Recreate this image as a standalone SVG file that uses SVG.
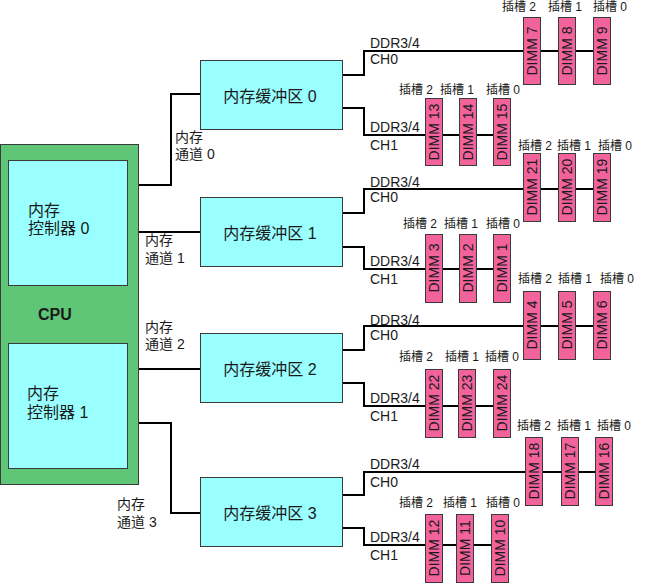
<svg xmlns="http://www.w3.org/2000/svg" width="660" height="584" viewBox="0 0 660 584">
<style>
text{font-family:"Liberation Sans","Noto Sans CJK SC",sans-serif;fill:#1a1a1a}
.cpu{fill:#5fc677;stroke:#3a3a3a;stroke-width:1}
.box{fill:#99ffff;stroke:#3a3a3a;stroke-width:1}
.dimm{fill:#f2639c;stroke:#3a3a3a;stroke-width:1}
.wire{fill:none;stroke:#000;stroke-width:2}
.t16{font-size:16px}
.t14{font-size:14px}
.t12{font-size:12px}
.mid{text-anchor:middle}
.dt{font-size:14px;text-anchor:middle}
</style>
<rect width="660" height="584" fill="#fff"/>
<g id="connectors">
<path class="wire" d="M128 185H171V94H200"/>
<path class="wire" d="M128 232H200"/>
<path class="wire" d="M128 369H200"/>
<path class="wire" d="M128 423H171V513H200"/>
<path class="wire" d="M343 75H364V51H601"/>
<path class="wire" d="M343 108H364V135H502"/>
<path class="wire" d="M343 213H364V189H601"/>
<path class="wire" d="M343 247H364V269H502"/>
<path class="wire" d="M343 350H364V326H601"/>
<path class="wire" d="M343 383H364V406H502"/>
<path class="wire" d="M343 495H364V472H604"/>
<path class="wire" d="M343 528H364V545H500"/>
</g>
<g id="cpu">
<rect class="cpu" x="0.5" y="144.5" width="138" height="340"/>
<text class="t16" x="38" y="320" font-weight="bold">CPU</text>
</g>
<g id="mc0">
<rect class="box" x="8.5" y="160.5" width="119" height="125"/>
<text class="t16" x="28" y="216">内存</text>
<text class="t16" x="28" y="234">控制器 0</text>
</g>
<g id="mc1">
<rect class="box" x="8.5" y="343.5" width="119" height="125"/>
<text class="t16" x="27" y="399">内存</text>
<text class="t16" x="27" y="418">控制器 1</text>
</g>
<g id="ch-labels">
<text class="t14" x="175" y="142">内存</text>
<text class="t14" x="175" y="159">通道 0</text>
<text class="t14" x="145" y="245">内存</text>
<text class="t14" x="145" y="263">通道 1</text>
<text class="t14" x="145" y="332">内存</text>
<text class="t14" x="145" y="349">通道 2</text>
<text class="t14" x="117" y="509">内存</text>
<text class="t14" x="117" y="527">通道 3</text>
</g>
<g id="buf0"><rect class="box" x="200.5" y="60.5" width="142" height="69"/><text class="t16 mid" x="270" y="102">内存缓冲区 0</text></g>
<g id="buf1"><rect class="box" x="200.5" y="197.5" width="142" height="69"/><text class="t16 mid" x="270" y="239">内存缓冲区 1</text></g>
<g id="buf2"><rect class="box" x="200.5" y="333.5" width="142" height="69"/><text class="t16 mid" x="270" y="375">内存缓冲区 2</text></g>
<g id="buf3"><rect class="box" x="200.5" y="477.5" width="142" height="69"/><text class="t16 mid" x="270" y="519">内存缓冲区 3</text></g>
<g id="ddr-labels">
<text class="t14" x="370" y="48">DDR3/4</text><text class="t14" x="370" y="64">CH0</text>
<text class="t14" x="370" y="132">DDR3/4</text><text class="t14" x="370" y="150">CH1</text>
<text class="t14" x="370" y="187">DDR3/4</text><text class="t14" x="370" y="202">CH0</text>
<text class="t14" x="370" y="266">DDR3/4</text><text class="t14" x="370" y="284">CH1</text>
<text class="t14" x="370" y="325">DDR3/4</text><text class="t14" x="370" y="340">CH0</text>
<text class="t14" x="370" y="403">DDR3/4</text><text class="t14" x="370" y="421">CH1</text>
<text class="t14" x="370" y="469">DDR3/4</text><text class="t14" x="370" y="487">CH0</text>
<text class="t14" x="370" y="542">DDR3/4</text><text class="t14" x="370" y="560">CH1</text>
</g>
<g id="slot-labels" class="t12">
<text class="t12 mid" x="519" y="11">插槽 2</text><text class="t12 mid" x="565" y="11">插槽 1</text><text class="t12 mid" x="610" y="11">插槽 0</text>
<text class="t12 mid" x="416" y="94">插槽 2</text><text class="t12 mid" x="457" y="94">插槽 1</text><text class="t12 mid" x="503" y="94">插槽 0</text>
<text class="t12 mid" x="535" y="150">插槽 2</text><text class="t12 mid" x="574" y="150">插槽 1</text><text class="t12 mid" x="615" y="150">插槽 0</text>
<text class="t12 mid" x="420" y="228">插槽 2</text><text class="t12 mid" x="461" y="228">插槽 1</text><text class="t12 mid" x="503" y="228">插槽 0</text>
<text class="t12 mid" x="535" y="283">插槽 2</text><text class="t12 mid" x="575" y="283">插槽 1</text><text class="t12 mid" x="617" y="283">插槽 0</text>
<text class="t12 mid" x="416" y="361">插槽 2</text><text class="t12 mid" x="462" y="361">插槽 1</text><text class="t12 mid" x="502" y="361">插槽 0</text>
<text class="t12 mid" x="534" y="430">插槽 2</text><text class="t12 mid" x="574" y="430">插槽 1</text><text class="t12 mid" x="614" y="430">插槽 0</text>
<text class="t12 mid" x="416" y="507">插槽 2</text><text class="t12 mid" x="460" y="507">插槽 1</text><text class="t12 mid" x="503" y="507">插槽 0</text>
</g>
<g id="dimm7"><rect class="dimm" x="523.5" y="17.5" width="17" height="67"/><text class="dt" transform="translate(532 51) rotate(-90)" y="5">DIMM 7</text></g>
<g id="dimm8"><rect class="dimm" x="558.5" y="17.5" width="17" height="67"/><text class="dt" transform="translate(567 51) rotate(-90)" y="5">DIMM 8</text></g>
<g id="dimm9"><rect class="dimm" x="593.5" y="17.5" width="17" height="67"/><text class="dt" transform="translate(602 51) rotate(-90)" y="5">DIMM 9</text></g>
<g id="dimm13"><rect class="dimm" x="425.5" y="98.5" width="17" height="67"/><text class="dt" transform="translate(434 132) rotate(-90)" y="5">DIMM 13</text></g>
<g id="dimm14"><rect class="dimm" x="459.5" y="98.5" width="17" height="67"/><text class="dt" transform="translate(468 132) rotate(-90)" y="5">DIMM 14</text></g>
<g id="dimm15"><rect class="dimm" x="493.5" y="98.5" width="17" height="67"/><text class="dt" transform="translate(502 132) rotate(-90)" y="5">DIMM 15</text></g>
<g id="dimm21"><rect class="dimm" x="523.5" y="153.5" width="17" height="68"/><text class="dt" transform="translate(532 187) rotate(-90)" y="5">DIMM 21</text></g>
<g id="dimm20"><rect class="dimm" x="558.5" y="153.5" width="17" height="68"/><text class="dt" transform="translate(567 187) rotate(-90)" y="5">DIMM 20</text></g>
<g id="dimm19"><rect class="dimm" x="593.5" y="153.5" width="17" height="68"/><text class="dt" transform="translate(602 187) rotate(-90)" y="5">DIMM 19</text></g>
<g id="dimm3"><rect class="dimm" x="425.5" y="234.5" width="17" height="68"/><text class="dt" transform="translate(434 268) rotate(-90)" y="5">DIMM 3</text></g>
<g id="dimm2"><rect class="dimm" x="459.5" y="234.5" width="17" height="68"/><text class="dt" transform="translate(468 268) rotate(-90)" y="5">DIMM 2</text></g>
<g id="dimm1"><rect class="dimm" x="493.5" y="234.5" width="17" height="68"/><text class="dt" transform="translate(502 268) rotate(-90)" y="5">DIMM 1</text></g>
<g id="dimm4"><rect class="dimm" x="523.5" y="291.5" width="17" height="68"/><text class="dt" transform="translate(532 325) rotate(-90)" y="5">DIMM 4</text></g>
<g id="dimm5"><rect class="dimm" x="558.5" y="291.5" width="17" height="68"/><text class="dt" transform="translate(567 325) rotate(-90)" y="5">DIMM 5</text></g>
<g id="dimm6"><rect class="dimm" x="593.5" y="291.5" width="17" height="68"/><text class="dt" transform="translate(602 325) rotate(-90)" y="5">DIMM 6</text></g>
<g id="dimm22"><rect class="dimm" x="425.5" y="369.5" width="17" height="68"/><text class="dt" transform="translate(434 403) rotate(-90)" y="5">DIMM 22</text></g>
<g id="dimm23"><rect class="dimm" x="458.5" y="369.5" width="17" height="68"/><text class="dt" transform="translate(467 403) rotate(-90)" y="5">DIMM 23</text></g>
<g id="dimm24"><rect class="dimm" x="493.5" y="369.5" width="17" height="68"/><text class="dt" transform="translate(502 403) rotate(-90)" y="5">DIMM 24</text></g>
<g id="dimm18"><rect class="dimm" x="525.5" y="437.5" width="17" height="68"/><text class="dt" transform="translate(534 471) rotate(-90)" y="5">DIMM 18</text></g>
<g id="dimm17"><rect class="dimm" x="561.5" y="437.5" width="17" height="68"/><text class="dt" transform="translate(570 471) rotate(-90)" y="5">DIMM 17</text></g>
<g id="dimm16"><rect class="dimm" x="595.5" y="437.5" width="17" height="68"/><text class="dt" transform="translate(604 471) rotate(-90)" y="5">DIMM 16</text></g>
<g id="dimm12"><rect class="dimm" x="425.5" y="514.5" width="17" height="68"/><text class="dt" transform="translate(434 548) rotate(-90)" y="5">DIMM 12</text></g>
<g id="dimm11"><rect class="dimm" x="456.5" y="514.5" width="17" height="68"/><text class="dt" transform="translate(465 548) rotate(-90)" y="5">DIMM 11</text></g>
<g id="dimm10"><rect class="dimm" x="491.5" y="514.5" width="17" height="68"/><text class="dt" transform="translate(500 548) rotate(-90)" y="5">DIMM 10</text></g>
</svg>
